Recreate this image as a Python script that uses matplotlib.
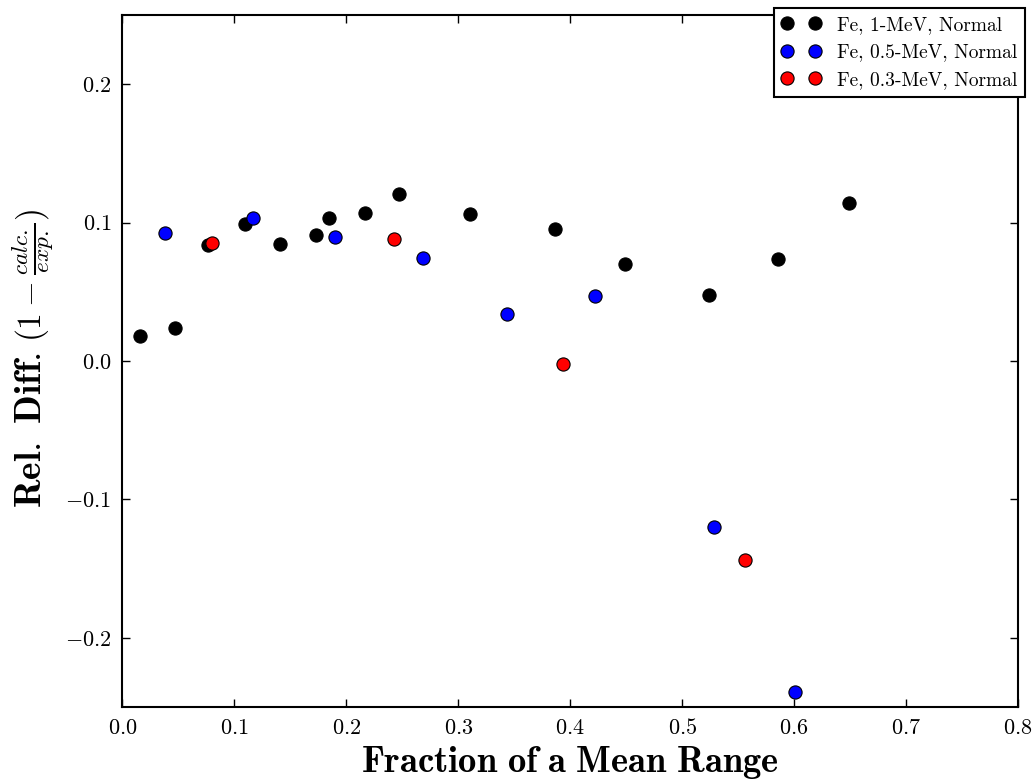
import matplotlib
matplotlib.use("Agg")
import matplotlib.pyplot as plt
from matplotlib.transforms import IdentityTransform

# Data
x_1mev = [0.0156, 0.0472, 0.0767, 0.1097, 0.1410, 0.1729, 0.1848, 0.2166, 0.2467,
          0.3104, 0.3864, 0.4492, 0.5239, 0.5859, 0.6493]
y_1mev = [0.0178, 0.0241, 0.0841, 0.0991, 0.0846, 0.0909, 0.1036, 0.1070, 0.1204,
          0.1063, 0.0955, 0.0702, 0.0476, 0.0740, 0.1139]

x_05mev = [0.0382, 0.1169, 0.1898, 0.2687, 0.3435, 0.4221, 0.5287, 0.6005]
y_05mev = [0.0925, 0.1034, 0.0899, 0.0745, 0.0342, 0.0471, -0.1199, -0.2389]

x_03mev = [0.0802, 0.2425, 0.3932, 0.5558]
y_03mev = [0.0851, 0.0880, -0.0019, -0.1437]

labels = ["Fe, 1-MeV, Normal", "Fe, 0.5-MeV, Normal", "Fe, 0.3-MeV, Normal"]
colors = ["black", "blue", "red"]

xticks = [0.0, 0.1, 0.2, 0.3, 0.4, 0.5, 0.6, 0.7, 0.8]
yticks = [-0.2, -0.1, 0.0, 0.1, 0.2]

xlabel_text = r"$\mathbf{Fraction\ of\ a\ Mean\ Range}$"
ylabel_bold = r"$\mathbf{Rel.\ Diff.}$"
ylabel_math = r"$(1 - \frac{calc.}{exp.})$"

plt.rcParams.update({
    "font.family": "serif",
    "font.serif": ["cmr10"],
    "mathtext.fontset": "cm",
    "axes.formatter.use_mathtext": True,
    "axes.unicode_minus": True,
})

W, H = 1034, 781
fig = plt.figure(figsize=(W / 100, H / 100), dpi=100)
ax = fig.add_axes([122.5 / W, 74 / H, (1018 - 122.5) / W, 692 / H])

for xs, ys, c, lab in zip([x_1mev, x_05mev, x_03mev], [y_1mev, y_05mev, y_03mev], colors, labels):
    ax.plot(xs, ys, linestyle="none", marker="o", markersize=9.5, markerfacecolor=c,
            markeredgecolor="black", markeredgewidth=0.8, label=lab)

ax.set_xlim(0.0, 0.8)
ax.set_ylim(-0.25, 0.25)
ax.set_xticks(xticks)
ax.set_yticks(yticks)
ax.tick_params(direction="in", top=True, right=True, length=6, width=1, labelsize=16, pad=8)
for s in ax.spines.values():
    s.set_linewidth(1.5)

leg = ax.legend(loc="upper right", bbox_to_anchor=(1.008, 1.01), borderaxespad=0,
                numpoints=2, fontsize=14, fancybox=False, framealpha=1,
                handlelength=2.0, handletextpad=0.85, borderpad=0.4, labelspacing=0.5)
leg.get_frame().set_edgecolor("black")
leg.get_frame().set_linewidth(1.5)

fig.canvas.draw()
renderer = fig.canvas.get_renderer()

# x label: centred below axes, baseline placed like the reference
xl = fig.text(570, 9, xlabel_text, transform=IdentityTransform(), fontsize=24,
              ha="center", va="baseline")
w = xl.get_window_extent(renderer).width
xl.set_fontsize(24 * 418 / w)

# y label: bold part then math part, rotated, sharing one baseline
base_x = 41
yb = fig.text(base_x, 781 - 508, ylabel_bold, transform=IdentityTransform(), fontsize=24,
              rotation=90, rotation_mode="anchor", ha="left", va="baseline")
w = yb.get_window_extent(renderer).height
yb.set_fontsize(24 * 156 / w)
fig.canvas.draw()
top = yb.get_window_extent(renderer).y1
ym = fig.text(base_x, top + 10, ylabel_math, transform=IdentityTransform(), fontsize=24,
              rotation=90, rotation_mode="anchor", ha="left", va="baseline")

fig.savefig("out.png", dpi=100)
